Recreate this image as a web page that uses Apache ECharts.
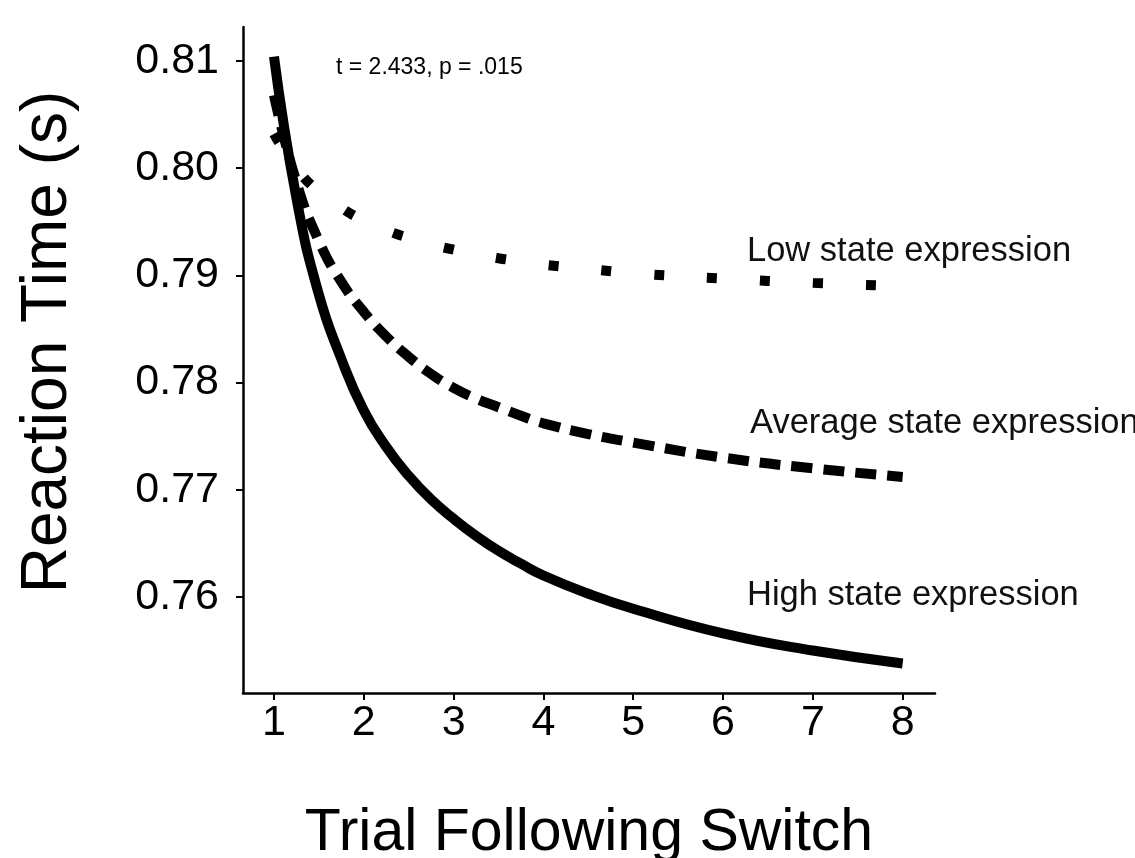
<!DOCTYPE html>
<html>
<head>
<meta charset="utf-8">
<title>Reaction Time</title>
<script src="https://cdn.jsdelivr.net/npm/echarts@6/dist/echarts.min.js"></script>
<style>
  html, body { margin: 0; padding: 0; background: #fff; }
  #main { width: 1135px; height: 858px; }
</style>
</head>
<body>
<div id="main"></div>
<script>
// trial positions
const trials = [1, 1.25, 1.5, 1.75, 2, 2.25, 2.5, 2.75, 3, 3.25, 3.5, 3.75, 4, 4.5, 5, 6, 7, 8];
const highState = [0.8104, 0.7972, 0.7882, 0.7822, 0.7774, 0.7740, 0.7713, 0.7691, 0.7673, 0.7657, 0.7643, 0.7631, 0.7620, 0.7603, 0.7589, 0.7566, 0.7550, 0.7538];
const avgState = [0.8068, 0.7987, 0.7932, 0.7894, 0.7866, 0.7843, 0.7824, 0.7808, 0.7795, 0.7785, 0.7777, 0.7769, 0.7762, 0.7752, 0.7744, 0.7730, 0.7720, 0.7712];
const lowState = [0.8032, 0.8000, 0.7978, 0.7963, 0.7951, 0.7942, 0.7935, 0.7929, 0.7924, 0.7920, 0.7916, 0.7913, 0.7910, 0.7906, 0.7902, 0.7897, 0.7893, 0.7890];

const xTicks = [1, 2, 3, 4, 5, 6, 7, 8];
const yTicks = [0.76, 0.77, 0.78, 0.79, 0.80, 0.81];

const FONT = 'Liberation Sans';

function pairs(ys) {
  return trials.map((t, i) => [t, ys[i]]);
}

function curve(name, ys, dash) {
  return {
    name: name,
    type: 'line',
    smooth: true,
    showSymbol: false,
    data: pairs(ys),
    lineStyle: { color: '#000', width: 10, type: dash, cap: 'butt' }
  };
}

let chart = echarts.init(document.getElementById('main'));

let option = {
  animation: false,
  backgroundColor: '#fff',
  grid: { left: 243, right: 200, top: 27, bottom: 165, outerBoundsMode: 'none', containLabel: false },
  xAxis: {
    type: 'value',
    min: 0.655,
    max: 8.36,
    name: 'Trial Following Switch',
    nameLocation: 'middle',
    nameGap: 111,
    nameTextStyle: { fontFamily: FONT, fontSize: 59, color: '#000' },
    splitLine: { show: false },
    axisLine: { lineStyle: { color: '#000', width: 2.5 } },
    axisTick: { customValues: xTicks, length: 7, lineStyle: { color: '#000', width: 2 } },
    axisLabel: {
      customValues: xTicks,
      fontFamily: FONT, fontSize: 43, color: '#000', margin: 9
    }
  },
  yAxis: {
    type: 'value',
    min: 0.75104,
    max: 0.81317,
    splitLine: { show: false },
    axisLine: { lineStyle: { color: '#000', width: 2.5 } },
    axisTick: { customValues: yTicks, length: 7, lineStyle: { color: '#000', width: 2 } },
    axisLabel: {
      customValues: yTicks,
      fontFamily: FONT, fontSize: 43, color: '#000', margin: 24,
      formatter: v => v.toFixed(2)
    }
  },
  graphic: [
    // y axis title, rotated
    {
      type: 'text', x: 48, y: 342, rotation: Math.PI / 2,
      style: { text: 'Reaction Time (s)', font: '64px "Liberation Sans"', fill: '#000', align: 'center', verticalAlign: 'middle' }
    },
    { type: 'text', left: 336, top: 56, style: { text: 't = 2.433, p = .015', font: '23px "Liberation Sans"', fill: '#000' } },
    { type: 'text', left: 747, top: 234, style: { text: 'Low state expression', font: '34.5px "Liberation Sans"', fill: '#111' } },
    { type: 'text', left: 750, top: 406, style: { text: 'Average state expression', font: '34.5px "Liberation Sans"', fill: '#111' } },
    { type: 'text', left: 747, top: 578, style: { text: 'High state expression', font: '34.5px "Liberation Sans"', fill: '#111' } }
  ],
  series: [
    curve('High state expression', highState, 'solid'),
    curve('Average state expression', avgState, [21, 11]),
    curve('Low state expression', lowState, [10, 43])
  ]
};

chart.setOption(option);
</script>
</body>
</html>
